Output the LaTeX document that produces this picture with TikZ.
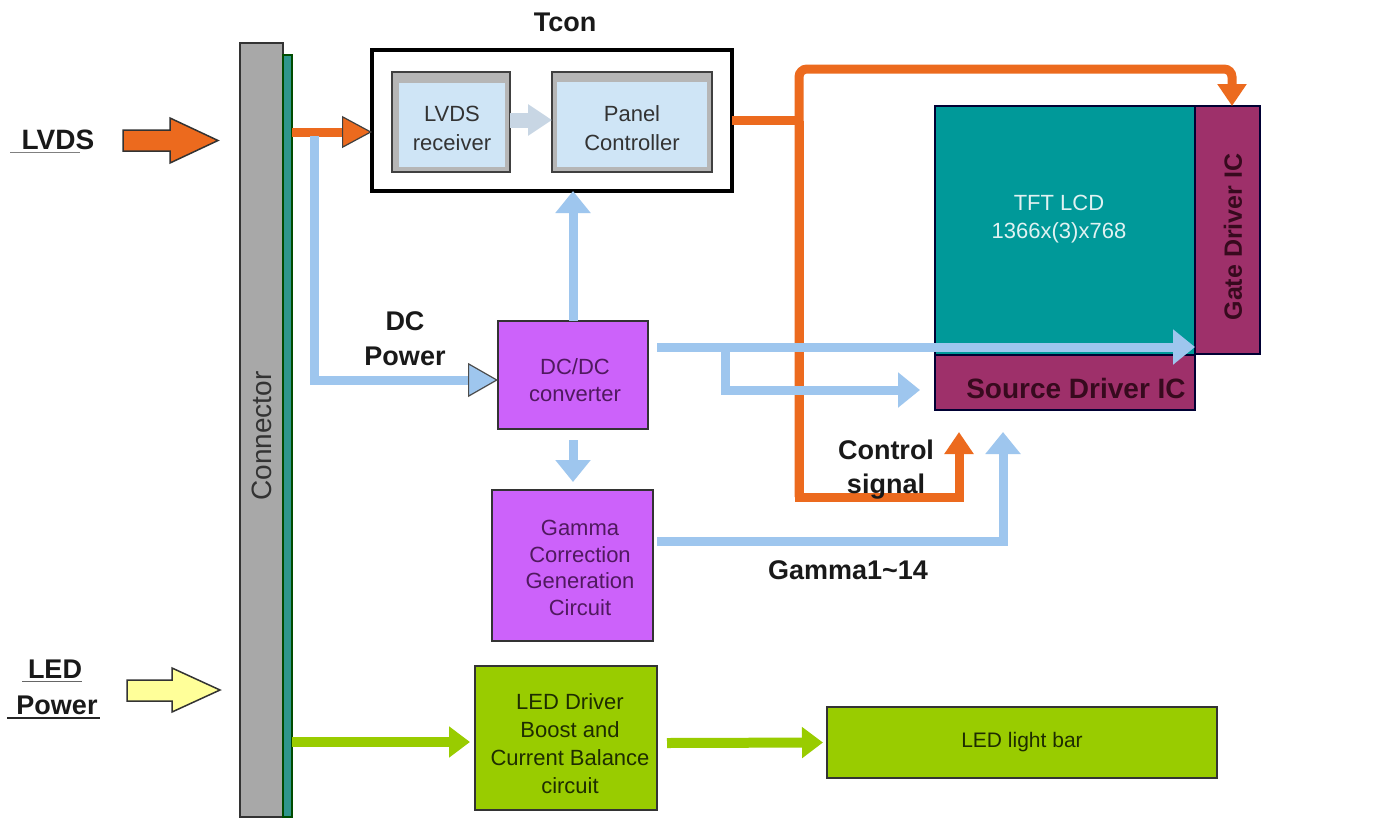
\documentclass[tikz,border=0pt]{standalone}
\usepackage{fontspec}
\setmainfont{Liberation Sans}
\usetikzlibrary{arrows.meta}
\definecolor{orng}{RGB}{236,106,30}
\definecolor{lblue}{RGB}{158,198,238}
\definecolor{purp}{RGB}{204,98,250}
\definecolor{tealc}{RGB}{0,153,153}
\definecolor{maroonc}{RGB}{158,48,106}
\definecolor{lgreen}{RGB}{153,204,0}
\definecolor{lyellow}{RGB}{255,255,153}
\definecolor{cgray}{RGB}{168,168,168}
\definecolor{cteal}{RGB}{46,150,140}
\definecolor{boxgray}{RGB}{182,182,182}
\definecolor{boxblue}{RGB}{207,229,246}
\definecolor{paleb}{RGB}{200,214,228}
\definecolor{dpurp}{RGB}{80,25,95}
\definecolor{dgreen}{RGB}{30,45,0}
\definecolor{tfttext}{RGB}{225,242,242}
\definecolor{srctext}{RGB}{55,10,30}
\begin{document}
\begin{tikzpicture}[x=1pt,y=-1pt,
  box/.style={draw=black!80, line width=2pt, inner sep=0pt, outer sep=0pt},
  lbl/.style={font=\fontsize{27}{35}\selectfont\bfseries, align=center, inner sep=0pt, text=black!90},
  txt/.style={font=\fontsize{22}{29}\selectfont, align=center, inner sep=0pt},
  bline/.style={draw=lblue, line width=9pt},
  oline/.style={draw=orng, line width=9pt},
  gline/.style={draw=lgreen, line width=10pt},
  btip/.style={-{Triangle[width=34pt,length=22pt]}},
  otip/.style={-{Triangle[width=28pt,length=22pt]}},
  gtip/.style={-{Triangle[width=30pt,length=21pt]}}
]
\fill[white] (0,0) rectangle (1390,820);
\useasboundingbox (0,0) rectangle (1390,820);

% connector bar
\node[draw=black!80, line width=1.5pt, fill=cgray, minimum width=43pt, minimum height=774pt, inner sep=0pt, outer sep=0pt] (conn) at (261.5,430) {};
\node[draw=black!70!green, line width=1.2pt, fill=cteal, minimum width=9pt, minimum height=762pt, inner sep=0pt, outer sep=0pt] (strip) at (287.5,436) {};
\node[font=\fontsize{28}{30}\selectfont, text=black!80, rotate=90, inner sep=0pt] (conntxt) at (262,436) {Connector};

% left labels and block arrows
\node[lbl, font=\fontsize{28}{30}\selectfont\bfseries] (lvdslbl) at (58,140) {LVDS};
\draw[gray, line width=1pt] (10,152) -- (80,152);
\draw[draw=black!80, line width=1.5pt, fill=orng] (123,130) -- (170,130) -- (170,118) -- (218,140.5) -- (170,163) -- (170,151) -- (123,151) -- cycle;
\node[lbl] (ledlbl) at (55,669) {LED};
\node[lbl] (pwrlbl) at (57,705) {Power};
\draw[black!60, line width=1pt] (22,681) -- (82,681);
\draw[black!85, line width=2pt] (7,718) -- (100,718);
\draw[draw=black!80, line width=1.5pt, fill=lyellow] (127,680) -- (172,680) -- (172,668) -- (220,690) -- (172,712) -- (172,701) -- (127,701) -- cycle;

% Tcon
\node[lbl] (tconlbl) at (565,22) {Tcon};
\node[draw=black, line width=3.5pt, fill=white, minimum width=360pt, minimum height=141pt, inner sep=0pt, outer sep=0pt] (tcon) at (552,120.5) {};
\node[box, draw=black!75, line width=1.8pt, fill=boxgray, minimum width=118pt, minimum height=100pt] (rx) at (451,122) {};
\fill[boxblue] ([xshift=7pt,yshift=-11pt]rx.north west) rectangle ([xshift=-5pt,yshift=5pt]rx.south east);
\node[txt, text=black!80] (rxt) at (452,128) {LVDS\\receiver};
\node[box, draw=black!75, line width=1.8pt, fill=boxgray, minimum width=160pt, minimum height=100pt] (pc) at (632,122) {};
\fill[boxblue] ([xshift=5pt,yshift=-10pt]pc.north west) rectangle ([xshift=-5pt,yshift=5pt]pc.south east);
\node[txt, text=black!80] (pct) at (632,128) {Panel\\Controller};
\draw[paleb, line width=15pt, -{Triangle[width=30pt,length=24pt]}] ([yshift=2pt]rx.east) -- ([yshift=2pt]pc.west);

% purple boxes
\node[box, fill=purp, minimum width=150pt, minimum height=108pt] (dcdc) at (573,375) {};
\node[txt, text=dpurp, font=\fontsize{22}{27}\selectfont] (dcdct) at (575,380) {DC/DC\\converter};
\node[box, fill=purp, minimum width=161pt, minimum height=151pt] (gamma) at (572.5,565.5) {};
\node[txt, text=dpurp, font=\fontsize{22}{26.5}\selectfont] (gammat) at (580,568) {Gamma\\Correction\\Generation\\Circuit};

% panel
\node[box, draw=black!80!blue, fill=tealc, minimum width=260pt, minimum height=249pt] (tft) at (1065,230.5) {};
\node[txt, text=tfttext, font=\fontsize{22}{28}\selectfont] (tftt) at (1059,219) {TFT LCD\\1366x(3)x768};
\node[box, draw=black!80!blue, fill=maroonc, minimum width=65pt, minimum height=248pt] (gate) at (1227.5,230) {};
\node[font=\fontsize{25}{28}\selectfont\bfseries, text=srctext, rotate=90, inner sep=0pt] (gatet) at (1233,237) {Gate Driver IC};
\node[box, draw=black!80!blue, fill=maroonc, minimum width=260pt, minimum height=55pt] (src) at (1065,382.5) {};
\node[font=\fontsize{28}{30}\selectfont\bfseries, text=srctext, inner sep=0pt] (srct) at (1076,388) {Source Driver IC};

% LED
\node[box, fill=lgreen, minimum width=182pt, minimum height=144pt] (led) at (566,738) {};
\node[txt, text=dgreen, font=\fontsize{22}{28}\selectfont] (ledt) at (570,744) {LED Driver\\Boost and\\Current Balance\\circuit};
\node[box, fill=lgreen, minimum width=390pt, minimum height=71pt, text=dgreen, font=\fontsize{21}{24}\selectfont] (bar) at (1022,742.5) {LED light bar};

% orange connectors
\coordinate (ojtop) at (799,69);
\coordinate (ojbot) at (799,497);
\draw[oline] (tcon.east) -- (tcon.east -| ojtop);
\draw[oline, otip, rounded corners=8pt] (ojbot) -- (ojtop) -| ([xshift=4.5pt]gate.north);
\coordinate (ctrlin) at ([xshift=-106pt,yshift=-22pt]src.south);
\draw[oline, otip] (tcon.east -| ojbot) -- (ojbot) -| (ctrlin);
\draw[oline, -{Triangle[width=32pt,length=30pt,fill=orng,color=black!75,line width=1.2pt]}] (strip.east |- 0,132) -- ([yshift=-11.5pt]tcon.west);

% blue connectors
\coordinate (bsplit) at (314,136);
\draw[bline, -{Triangle[width=34pt,length=30pt,fill=lblue,color=black!70,line width=1.2pt]}] (bsplit) |- ([yshift=-5pt]dcdc.west);
\draw[bline, btip] (dcdc.north) -- (dcdc.north |- tcon.south);
\draw[bline, btip] ([yshift=-11pt]dcdc.south) -- ([yshift=8pt]dcdc.south |- gamma.north);
\coordinate (p1) at ([xshift=9pt,yshift=28pt]dcdc.east);
\draw[bline, btip] (p1) -- (p1 -| gate.west);
\coordinate (br) at (725,347);
\coordinate (srcin) at ([xshift=-15pt,yshift=-7.5pt]src.west);
\draw[bline, btip] (br) |- (srcin);
\coordinate (gout) at ([xshift=4pt,yshift=24.5pt]gamma.east);
\coordinate (gin) at ([xshift=-62pt,yshift=-22pt]src.south);
\draw[bline, btip] (gout) -| (gin);

% green connectors
\coordinate (ledin) at ([xshift=-5pt,yshift=-4pt]led.west);
\draw[gline, gtip] (strip.east |- ledin) -- (ledin);
\draw[gline, gtip] ([xshift=10pt,yshift=-5pt]led.east) -- ([xshift=-4pt]bar.west);

% labels
\node[lbl] (dcpwr) at (405,339) {DC\\Power};
\node[lbl, font=\fontsize{27}{34}\selectfont\bfseries] (ctrl) at (886,470) {Control\\signal};
\node[lbl] (gam) at (848,570) {Gamma1\textasciitilde 14};
\end{tikzpicture}
\end{document}
